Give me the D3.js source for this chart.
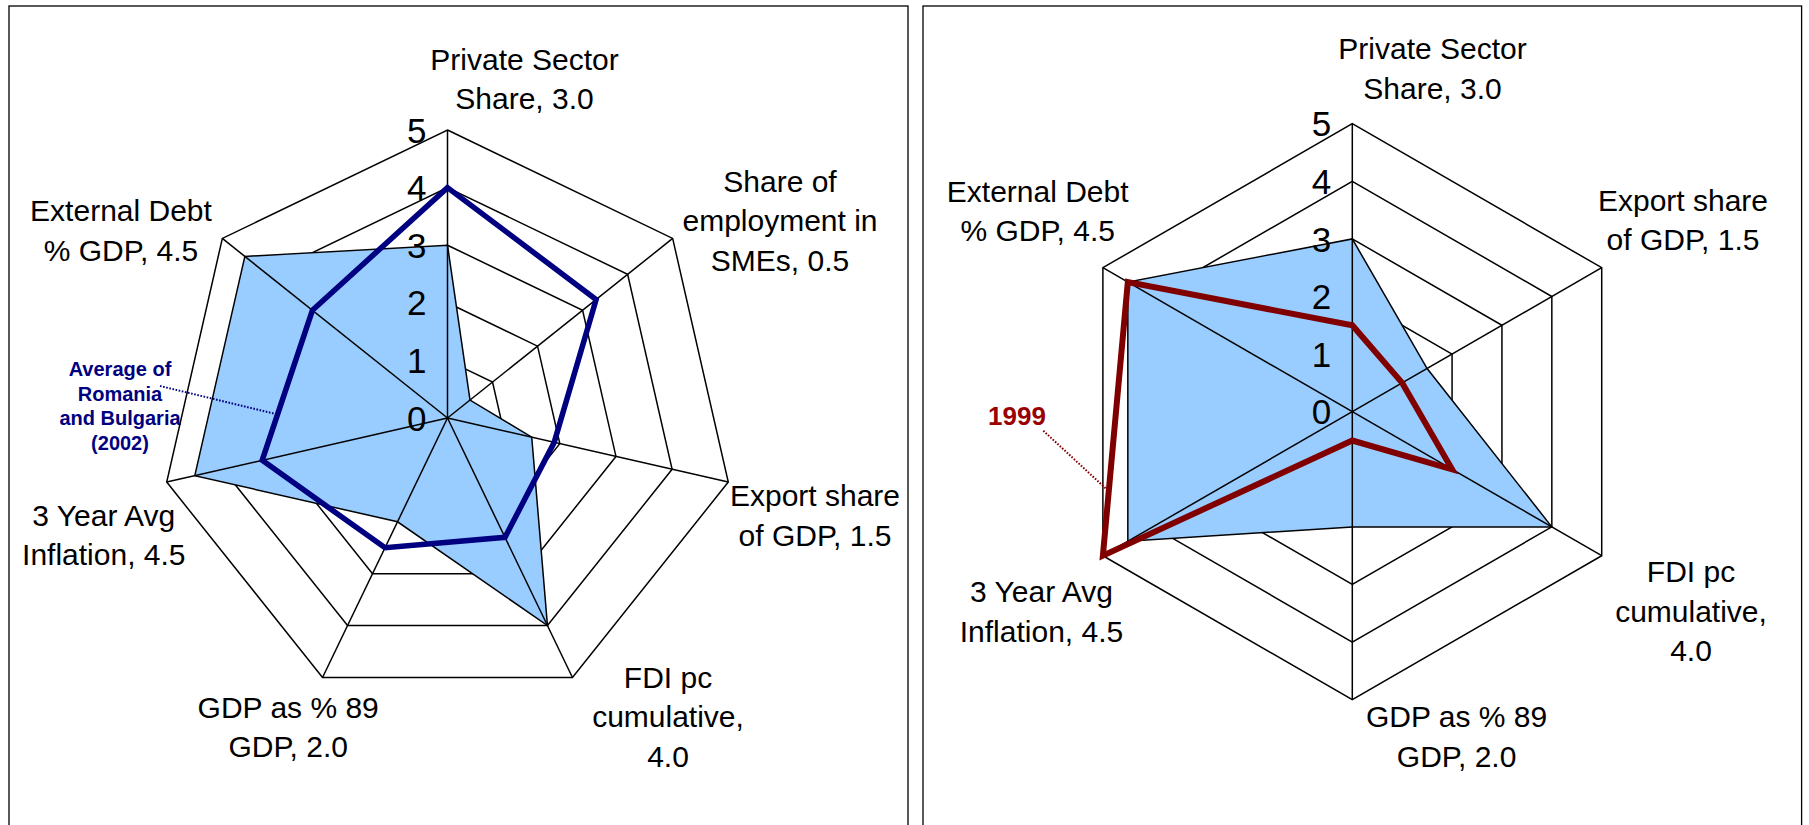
<!DOCTYPE html>
<html>
<head>
<meta charset="utf-8">
<script src="https://cdn.jsdelivr.net/npm/d3@7"></script>
<style>
  html, body { margin: 0; padding: 0; background: #fff; }
  svg { display: block; }
  text { font-family: Arial, "Liberation Sans", sans-serif; }
</style>
</head>
<body>
<svg id="chart" width="1809" height="825"></svg>
<script>
// ---------------- DATA ----------------
const tickValues = [0, 1, 2, 3, 4, 5];

// Left chart (7 axes)
const leftCategories = [
  "Private Sector Share", "Share of employment in SMEs", "Export share of GDP",
  "FDI pc cumulative", "GDP as % 89 GDP", "3 Year Avg Inflation", "External Debt % GDP"
];
const leftLabelLines = [
  ["Private Sector", "Share, 3.0"],
  ["Share of", "employment in", "SMEs, 0.5"],
  ["Export share", "of GDP, 1.5"],
  ["FDI pc", "cumulative,", "4.0"],
  ["GDP as % 89", "GDP, 2.0"],
  ["3 Year Avg", "Inflation, 4.5"],
  ["External Debt", "% GDP, 4.5"]
];
const leftScores = [3.0, 0.5, 1.5, 4.0, 2.0, 4.5, 4.5];
const leftAverage2002 = [4.0, 3.3, 1.9, 2.3, 2.5, 3.3, 3.0];
const leftSeriesName = ["Average of", "Romania", "and Bulgaria", "(2002)"];

// Right chart (6 axes)
const rightCategories = [
  "Private Sector Share", "Export share of GDP", "FDI pc cumulative",
  "GDP as % 89 GDP", "3 Year Avg Inflation", "External Debt % GDP"
];
const rightLabelLines = [
  ["Private Sector", "Share, 3.0"],
  ["Export share", "of GDP, 1.5"],
  ["FDI pc", "cumulative,", "4.0"],
  ["GDP as % 89", "GDP, 2.0"],
  ["3 Year Avg", "Inflation, 4.5"],
  ["External Debt", "% GDP, 4.5"]
];
const rightScores = [3.0, 1.5, 4.0, 2.0, 4.5, 4.5];
const right1999 = [1.5, 1.0, 2.0, 0.5, 5.0, 4.5];
const rightSeriesName = ["1999"];

// ---------------- LAYOUT ----------------
const R = 288;
const svg = d3.select("#chart");

const panels = [
  {
    frame: [9, 6, 899, 830],
    cx: 447.5, cy: 418,
    cats: leftCategories, labels: leftLabelLines,
    fill: leftScores, line: leftAverage2002,
    lineColor: "#000080", lineWidth: 5.5,
    name: leftSeriesName, nameColor: "#000080", nameSize: 20, nameLH: 24.5,
    namePos: [120, 369], leaderStart: [160, 386], leaderSeg: [5, 6], leaderT: 0.31,
    labelOffsets: [[77, -339.3], [332.5, -197.4], [367.5, 97], [220.5, 298.5],
                   [-159.3, 308.9], [-343.7, 116.8], [-326.5, -187.7]]
  },
  {
    frame: [923, 6, 878.6, 830],
    cx: 1352.3, cy: 411.7,
    cats: rightCategories, labels: rightLabelLines,
    fill: rightScores, line: right1999,
    lineColor: "#800000", lineWidth: 6,
    name: rightSeriesName, nameColor: "#990000", nameSize: 26, nameLH: 26,
    namePos: [1017, 416], leaderStart: [1043.3, 430.7], leaderSeg: [4, 5], leaderT: 0.245,
    labelOffsets: [[80.2, -343.6], [330.7, -192], [338.7, 199], [104.3, 324.6],
                   [-310.8, 199.3], [-314.6, -201.2]]
  }
];

const r = d3.scaleLinear().domain([0, 5]).range([0, R]);

panels.forEach(p => {
  const n = p.cats.length;
  const angle = d3.scaleLinear().domain([0, n]).range([0, 2 * Math.PI]);
  const pt = (i, v) => {
    const a = angle(i);
    return [p.cx + r(v) * Math.sin(a), p.cy - r(v) * Math.cos(a)];
  };

  // frame
  svg.append("rect")
    .attr("x", p.frame[0]).attr("y", p.frame[1])
    .attr("width", p.frame[2]).attr("height", p.frame[3])
    .attr("fill", "none").attr("stroke", "#000").attr("stroke-width", 1.3);

  const g = svg.append("g").attr("transform", `translate(${p.cx},${p.cy})`);

  const radial = d3.lineRadial()
    .angle((d, i) => angle(i))
    .radius(d => r(d))
    .curve(d3.curveLinearClosed);

  // grid rings
  tickValues.filter(t => t > 0).forEach(t => {
    g.append("path")
      .attr("d", radial(d3.range(n).map(() => t)))
      .attr("fill", "none").attr("stroke", "#000").attr("stroke-width", 1.5);
  });

  // filled area series
  g.append("path")
    .attr("d", radial(p.fill))
    .attr("fill", "#99CCFF").attr("stroke", "#000").attr("stroke-width", 1.5)
    .attr("stroke-linejoin", "miter");

  // spokes
  d3.range(n).forEach(i => {
    const a = angle(i);
    g.append("line")
      .attr("x1", 0).attr("y1", 0)
      .attr("x2", r(5) * Math.sin(a)).attr("y2", -r(5) * Math.cos(a))
      .attr("stroke", "#000").attr("stroke-width", 1.5);
  });

  // line series
  g.append("path")
    .attr("d", radial(p.line))
    .attr("fill", "none").attr("stroke", p.lineColor).attr("stroke-width", p.lineWidth)
    .attr("stroke-linejoin", "miter").attr("stroke-miterlimit", 10);

  // leader line from series name to line series
  const [i0, i1] = p.leaderSeg;
  const a0 = pt(i0, p.line[i0]);
  const a1 = pt(i1 % n, p.line[i1 % n]);
  const endX = a0[0] + (a1[0] - a0[0]) * p.leaderT;
  const endY = a0[1] + (a1[1] - a0[1]) * p.leaderT;
  svg.append("line")
    .attr("x1", p.leaderStart[0]).attr("y1", p.leaderStart[1])
    .attr("x2", endX - p.lineWidth / 2).attr("y2", endY)
    .attr("stroke", p.lineColor).attr("stroke-width", 2)
    .attr("stroke-dasharray", "1.6,1.6");

  // series name
  const nt = svg.append("text")
    .attr("text-anchor", "middle")
    .attr("font-weight", "bold")
    .attr("font-size", p.nameSize)
    .attr("fill", p.nameColor);
  p.name.forEach((s, k) => {
    nt.append("tspan")
      .attr("x", p.namePos[0])
      .attr("y", p.namePos[1] + k * p.nameLH)
      .attr("dy", "0.36em")
      .text(s);
  });

  // tick labels
  g.selectAll("text.tick").data(tickValues).enter().append("text")
    .attr("class", "tick")
    .attr("x", -21)
    .attr("y", d => -r(d))
    .attr("dy", "0.36em")
    .attr("text-anchor", "end")
    .attr("font-size", 35)
    .attr("fill", "#000")
    .text(d => d);

  // category labels
  p.labels.forEach((lines, i) => {
    const [ox, oy] = p.labelOffsets[i];
    const lh = 39.5;
    const top = p.cy + oy - (lines.length - 1) * lh / 2;
    const t = svg.append("text")
      .attr("text-anchor", "middle")
      .attr("font-size", 30)
      .attr("fill", "#000");
    lines.forEach((s, k) => {
      t.append("tspan")
        .attr("x", p.cx + ox)
        .attr("y", top + k * lh)
        .attr("dy", "0.36em")
        .text(s);
    });
  });
});
</script>
</body>
</html>
